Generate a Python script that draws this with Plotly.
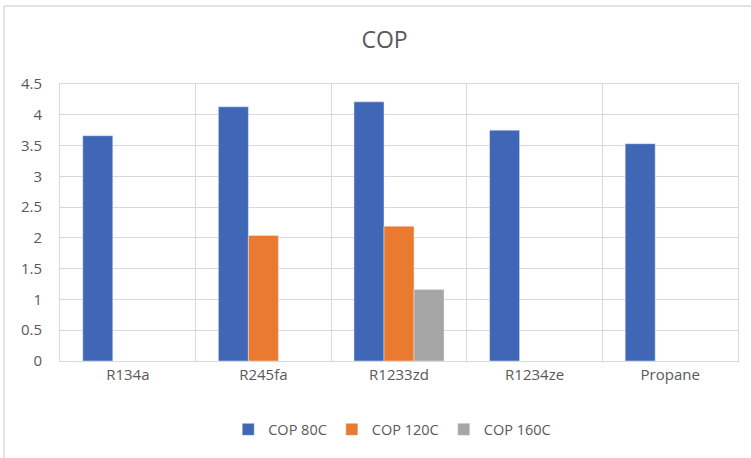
import plotly.graph_objects as go

categories = ["R134a", "R245fa", "R1233zd", "R1234ze", "Propane"]
cop_80c = [3.66, 4.13, 4.21, 3.75, 3.53]
cop_120c = [None, 2.04, 2.19, None, None]
cop_160c = [None, None, 1.16, None, None]
y_ticks = [0, 0.5, 1, 1.5, 2, 2.5, 3, 3.5, 4, 4.5]
y_tick_labels = ["0", "0.5", "1", "1.5", "2", "2.5", "3", "3.5", "4", "4.5"]

FONT = "Open Sans, Liberation Sans, sans-serif"
TXT = "#595959"
GRID = "#d9d9d9"

fig = go.Figure()
fig.add_bar(name="COP 80C", x=categories, y=cop_80c, marker_color="#3F67B5")
fig.add_bar(name="COP 120C", x=categories, y=cop_120c, marker_color="#EA7A30")
fig.add_bar(name="COP 160C", x=categories, y=cop_160c, marker_color="#A5A5A5")

fig.update_layout(
    width=751, height=458,
    margin=dict(l=60, r=13, t=84, b=95),
    paper_bgcolor="white", plot_bgcolor="white",
    barmode="group", bargap=0.336, bargroupgap=0,
    font=dict(family=FONT, color=TXT, size=14),
    title=dict(text="COP", x=0.512, xanchor="center", y=0.913, yanchor="middle",
               font=dict(size=23, color=TXT, family=FONT)),
    legend=dict(orientation="h", x=0.49, xanchor="center", y=-0.247, yanchor="middle",
                font=dict(size=14.5, color=TXT), itemwidth=30, traceorder="normal"),
    xaxis=dict(showgrid=True, gridcolor=GRID, tickson="boundaries", ticks="",
               showline=True, linecolor=GRID, mirror=True, linewidth=1,
               tickfont=dict(size=15, color=TXT)),
    yaxis=dict(range=[0, 4.5], tickvals=y_ticks, ticktext=y_tick_labels,
               showgrid=True, gridcolor=GRID, zeroline=False,
               showline=True, linecolor=GRID, mirror=True, linewidth=1,
               tickfont=dict(size=15, color=TXT), ticklabelstandoff=14),
)

# outer chart border (top and left edges visible in the reference crop)
top_y = 1 + (84 - 5.5) / 279
left_x = -(60 - 4) / 678
fig.add_shape(type="line", xref="paper", yref="paper",
              x0=left_x, x1=1 + 20 / 678, y0=top_y, y1=top_y,
              line=dict(color=GRID, width=1.5), layer="below")
fig.add_shape(type="line", xref="paper", yref="paper",
              x0=left_x, x1=left_x, y0=top_y, y1=-100 / 279,
              line=dict(color=GRID, width=1.5), layer="below")

fig.write_html("out.html",
               config={"displayModeBar": False},
               post_script="document.body.style.margin='0';document.body.style.overflow='hidden';")
